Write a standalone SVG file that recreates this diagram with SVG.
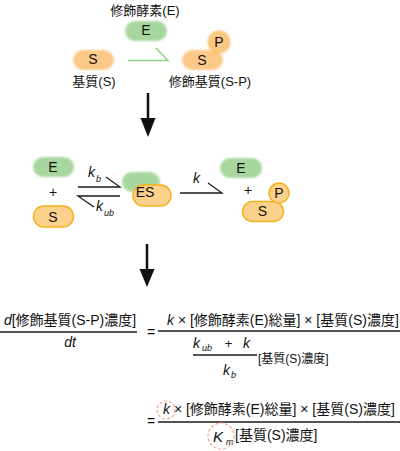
<svg xmlns="http://www.w3.org/2000/svg" width="400" height="451" viewBox="0 0 400 451">
<defs>
<filter id="soft" x="-30%" y="-40%" width="160%" height="180%"><feGaussianBlur stdDeviation="1.1"/></filter>
<style>
text{font-family:"Liberation Sans","Noto Sans CJK JP",sans-serif;fill:#111}
.lbl{font-size:13px;text-anchor:middle}
.nd{font-size:14px;text-anchor:middle}
.eq{font-size:14px}
.it{font-style:italic}
.sub{font-size:9px;font-style:italic}
.g{fill:#a7d79e}
.o{fill:#fbc987}
.os{fill:#fcd18c;stroke:#f4b21c;stroke-width:1.5}
.ln{stroke:#1a1a1a;stroke-width:1.3;fill:none}
.gl{stroke:#95cf8a;stroke-width:1.5;fill:none}
.dc{fill:none;stroke:#f2a68a;stroke-width:1.2;stroke-dasharray:3 2}
</style>
</defs>
<g id="connectors">
<path class="gl" d="M128 60.5H168L156 48"/>
<line x1="148" y1="93" x2="148" y2="120" stroke="#111" stroke-width="2.5"/>
<polygon points="140.5,118 155.5,118 148,137" fill="#111"/>
<path class="ln" d="M78 187H120L106 177"/>
<path class="ln" d="M120 196H78L94 207"/>
<path class="ln" d="M180 193H222L208 183"/>
<line x1="147" y1="244" x2="147" y2="271" stroke="#111" stroke-width="2.5"/>
<polygon points="139.5,269 154.5,269 147,287" fill="#111"/>
</g>
<g id="label-enzyme"><text class="lbl" x="145" y="15">修飾酵素(E)</text></g>
<g id="top-E"><rect class="g" x="125" y="21" width="42" height="20" rx="10" filter="url(#soft)"/><text class="nd" x="146" y="35">E</text></g>
<g id="top-S"><rect class="o" x="73" y="50" width="41" height="20" rx="10" filter="url(#soft)"/><text class="nd" x="93" y="64">S</text></g>
<g id="top-SP"><rect class="o" x="182" y="50" width="41" height="20" rx="10" filter="url(#soft)"/><circle cx="219" cy="42" r="10.5" fill="#fbc987" stroke="#f6bb55" stroke-width="1.5" filter="url(#soft)"/><text class="nd" x="202" y="65">S</text><text class="nd" x="219" y="47">P</text></g>
<g id="label-substrate"><text class="lbl" x="94" y="86">基質(S)</text></g>
<g id="label-modsub"><text class="lbl" x="210" y="86">修飾基質(S-P)</text></g>
<g id="mid-E"><rect class="g" x="33" y="157" width="41" height="20" rx="10" filter="url(#soft)"/><text class="nd" x="53" y="172">E</text></g>
<g id="mid-plus1"><text class="nd" x="53" y="197">+</text></g>
<g id="mid-S"><rect class="os" x="33.5" y="206" width="40" height="21" rx="10.5"/><text class="nd" x="53" y="222">S</text></g>
<g id="rate-kb"><text class="it" x="88" y="177" font-size="14">k</text><text class="sub" x="96" y="182">b</text></g>
<g id="rate-kub"><text class="it" x="96" y="211" font-size="14">k</text><text class="sub" x="104" y="216">ub</text></g>
<g id="mid-ES"><rect class="g" x="122" y="172" width="38" height="20" rx="10" filter="url(#soft)"/><rect class="os" x="133" y="185" width="38" height="21" rx="10.5"/><text class="nd" x="145" y="197">ES</text></g>
<g id="rate-k"><text class="it" x="193" y="183" font-size="14">k</text></g>
<g id="right-E"><rect class="g" x="220" y="158" width="42" height="20" rx="10" filter="url(#soft)"/><text class="nd" x="241" y="173">E</text></g>
<g id="mid-plus2"><text class="nd" x="248" y="195">+</text></g>
<g id="right-SP"><rect class="os" x="242.5" y="201.5" width="41" height="20" rx="10"/><circle cx="279" cy="193" r="10" fill="#fcd18c" stroke="#f4b21c" stroke-width="1.5"/><text class="nd" x="262.5" y="216">S</text><text class="nd" x="279" y="198">P</text></g>
<g id="eq1">
<text class="eq" x="70" y="325" text-anchor="middle"><tspan class="it">d</tspan>[修飾基質(S-P)濃度]</text>
<line class="ln" x1="0" y1="332" x2="137" y2="332"/>
<text class="eq it" x="70" y="347" text-anchor="middle">dt</text>
<text class="eq" x="151" y="337" text-anchor="middle">=</text>
<text class="eq" x="167" y="325"><tspan class="it">k</tspan> × [修飾酵素(E)総量] × [基質(S)濃度]</text>
<line class="ln" x1="158" y1="331" x2="400" y2="331"/>
<text class="it" x="193" y="348" font-size="14">k</text><text class="sub" x="202" y="351">ub</text>
<text x="228.5" y="348" font-size="13" text-anchor="middle">+</text>
<text class="it" x="243" y="348" font-size="14">k</text>
<line class="ln" x1="193" y1="355" x2="257" y2="355" stroke-width="1"/>
<text class="it" x="223" y="375" font-size="14">k</text><text class="sub" x="231" y="378">b</text>
<text x="258" y="363" font-size="12">[基質(S)濃度]</text>
</g>
<g id="eq2">
<text class="eq" x="151" y="426" text-anchor="middle">=</text>
<text class="eq" x="163" y="414"><tspan class="it">k</tspan> × [修飾酵素(E)総量] × [基質(S)濃度]</text>
<line class="ln" x1="158" y1="422" x2="400" y2="422"/>
<text class="it" x="213" y="442" font-size="15">K</text><text class="sub" x="226" y="445" font-size="10">m</text>
<text class="eq" x="235" y="440">[基質(S)濃度]</text>
<circle class="dc" cx="166" cy="410" r="9"/>
<circle class="dc" cx="221" cy="436" r="13"/>
</g>
</svg>
